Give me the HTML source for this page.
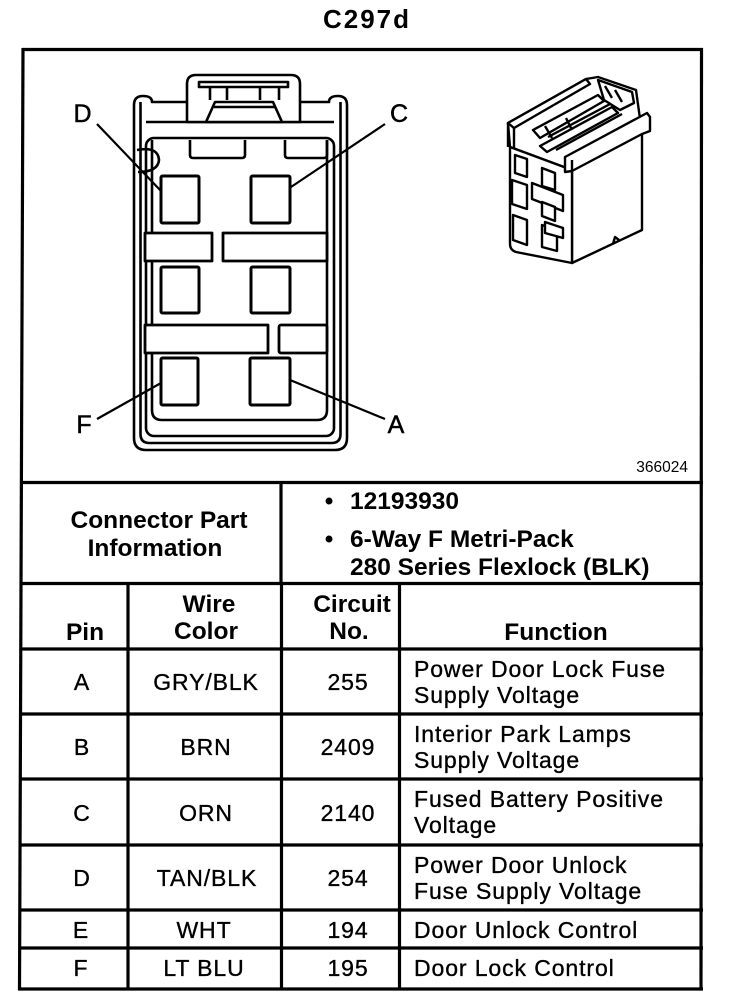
<!DOCTYPE html>
<html>
<head>
<meta charset="utf-8">
<style>
html,body{margin:0;padding:0;background:#fff;}
svg{display:block;}
text{font-family:"Liberation Sans", Arial, sans-serif;fill:#000;}
.b{font-weight:bold;font-size:24.5px;}
.r{font-size:23px;letter-spacing:0.9px;stroke:#000;stroke-width:0.35px;}
</style>
</head>
<body>
<svg width="736" height="1002" viewBox="0 0 736 1002" xmlns="http://www.w3.org/2000/svg">
<rect x="0" y="0" width="736" height="1002" fill="#fff"/>

<!-- Title -->
<text x="367" y="28" font-size="26" font-weight="bold" text-anchor="middle" letter-spacing="2">C297d</text>

<!-- Frame / table lines -->
<g stroke="#000" stroke-width="3.2" fill="none">
  <line x1="22" y1="49.5" x2="703" y2="49.5"/>
  <line x1="23" y1="48" x2="19.5" y2="990.5"/>
  <line x1="701.5" y1="48" x2="701" y2="990.5"/>
  <line x1="21" y1="482.5" x2="703" y2="482.5"/>
  <line x1="21" y1="583.5" x2="703" y2="583.5"/>
  <line x1="20" y1="649" x2="703" y2="649"/>
  <line x1="20" y1="714" x2="703" y2="714"/>
  <line x1="20" y1="779" x2="703" y2="779"/>
  <line x1="20" y1="845" x2="703" y2="845"/>
  <line x1="20" y1="910" x2="703" y2="910"/>
  <line x1="20" y1="948" x2="703" y2="948"/>
  <line x1="18" y1="989" x2="703" y2="989"/>
  <line x1="281" y1="483" x2="281" y2="584"/>
  <line x1="128" y1="584" x2="128" y2="990"/>
  <line x1="281.5" y1="584" x2="281.5" y2="990"/>
  <line x1="399.5" y1="584" x2="399.5" y2="990"/>
</g>

<!-- Connector face drawing -->
<g stroke="#000" stroke-width="2.6" fill="none" stroke-linejoin="round">
  <path d="M134,438 L134,105 Q134,96 143,96 Q152,96 152,102 L329,102 Q329,96 338,96 Q347,96 347,105 L347,438 Q347,450 335,450 L146,450 Q134,450 134,438 Z"/>
  <path d="M140.5,102 L140.5,434 Q140.5,443 149.5,443 L331.5,443 Q340.5,443 340.5,434 L340.5,102"/>
  <rect x="146" y="138" width="188" height="298" rx="8"/>
  <path d="M152,140 L152,410 Q152,420 162,420 L317,420 Q327,420 327,410 L327,140"/>
  <line x1="146" y1="122" x2="334" y2="122"/>
  <!-- latch -->
  <path d="M187,122 L187,84 Q187,75 196,75 L291,75 Q300,75 300,84 L300,122 Z" fill="#fff"/>
  <rect x="199" y="82" width="89" height="5"/>
  <line x1="210" y1="87" x2="210" y2="100"/>
  <line x1="227" y1="87" x2="227" y2="100"/>
  <line x1="260" y1="87" x2="260" y2="100"/>
  <line x1="279" y1="87" x2="279" y2="100"/>
  <polygon points="215,102 273,102 282,122 206,122" fill="#fff"/>
  <line x1="214" y1="107" x2="275" y2="107"/>
  <!-- tabs -->
  <path d="M190,140 L190,155 Q190,158 193,158 L242,158 Q245,158 245,155 L245,140"/>
  <path d="M285,140 L285,155 Q285,158 288,158 L324,158 Q327,158 327,155 L327,140"/>
  <!-- left bump -->
  <path d="M137,150 Q158,146 159,160 Q158,172 138,172"/>
  <!-- bars -->
  <rect x="145" y="233" width="67" height="28" fill="#fff" stroke-width="2.8"/>
  <rect x="223" y="233" width="104" height="28" fill="#fff" stroke-width="2.8"/>
  <rect x="145" y="325" width="123" height="28" fill="#fff" stroke-width="2.8"/>
  <rect x="279" y="325" width="48" height="28" rx="2" fill="#fff" stroke-width="2.8"/>
  <!-- cavities -->
  <rect x="161" y="176" width="38" height="47" rx="1.5" stroke-width="3" fill="#fff"/>
  <rect x="251" y="176" width="39" height="47" rx="1.5" stroke-width="3" fill="#fff"/>
  <rect x="161" y="267" width="38" height="46" rx="1.5" stroke-width="3" fill="#fff"/>
  <rect x="251" y="267" width="39" height="46" rx="1.5" stroke-width="3" fill="#fff"/>
  <rect x="161" y="358" width="37" height="47" rx="1.5" stroke-width="3" fill="#fff"/>
  <rect x="250" y="358" width="40" height="47" rx="1.5" stroke-width="3" fill="#fff"/>
  <!-- leaders -->
  <line x1="97" y1="124" x2="161" y2="191" stroke-width="2.2"/>
  <line x1="385" y1="124" x2="291" y2="187" stroke-width="2.2"/>
  <line x1="97" y1="419" x2="161" y2="383" stroke-width="2.2"/>
  <line x1="290" y1="380" x2="385" y2="419" stroke-width="2.2"/>
</g>
<text x="82.5" y="122" font-size="25" text-anchor="middle" stroke="#000" stroke-width="0.5">D</text>
<text x="399" y="122" font-size="25" text-anchor="middle" stroke="#000" stroke-width="0.5">C</text>
<text x="84" y="433" font-size="25" text-anchor="middle" stroke="#000" stroke-width="0.5">F</text>
<text x="396" y="433" font-size="25" text-anchor="middle" stroke="#000" stroke-width="0.5">A</text>

<!-- 3D connector -->
<g stroke="#000" stroke-width="2.4" fill="#fff" stroke-linejoin="round">
  <polygon points="508,123 586,79 598,77 636,90 642,133 572,170 510,147"/>
  <polygon points="572,170 642,133 642,230 572,263"/>
  <path d="M510,147 L572,170 L572,263 L516,252 Q510,250 510,244 Z"/>
  <!-- left lip -->
  <polygon points="508,123 586,79 590,84 514,128"/>
  <path d="M508,123 L508,147 M514,128 L514,149" fill="none"/>
  <!-- latch interior -->
  <polygon points="533,130 598,95 604,101 540,138"/>
  <polygon points="540,146 612,107 618,113 547,152"/>
  <path d="M548,137 L612,103 M556,150 L622,114 M545,126 L552,138 M566,118 L572,130" fill="none"/>
  <polygon points="598,80 632,92 634,103 620,110 604,100"/>
  <path d="M605,86 L612,98 M615,90 L622,102" fill="none"/>
  <!-- right lip -->
  <polygon points="565,157 647,113 650,117 650,131 642,134 572,171 565,172"/>
  <line x1="572" y1="171" x2="572" y2="160" fill="none"/>
  <!-- notch bottom -->
  <path d="M613,244 L615,237 L619,240" fill="none"/>
  <!-- cavities -->
  <polygon points="515,155 527,159 527,177 515,173"/>
  <polygon points="542,168 555,173 555,190 542,186"/>
  <polygon points="512,180 527,185 527,209 512,204"/>
  <polygon points="532,183 563,195 563,211 532,199"/>
  <polygon points="542,202 555,207 555,221 542,216"/>
  <polygon points="513,215 527,220 527,245 513,240"/>
  <polygon points="542,225 557,230 557,251 542,247"/>
  <polygon points="545,222 563,228 563,238 545,233"/>
</g>

<text x="688" y="472" font-size="15.5" text-anchor="end">366024</text>

<!-- Connector part info -->
<text class="b" x="159" y="528" text-anchor="middle">Connector Part</text>
<text class="b" x="155" y="556" text-anchor="middle">Information</text>
<text class="b" x="329" y="509" text-anchor="middle">•</text>
<text class="b" x="350" y="509">12193930</text>
<text class="b" x="329" y="547" text-anchor="middle">•</text>
<text class="b" x="350" y="547">6-Way F Metri-Pack</text>
<text class="b" x="350" y="575">280 Series Flexlock (BLK)</text>

<!-- Header -->
<text class="b" x="85" y="640" text-anchor="middle">Pin</text>
<text class="b" x="209" y="612" text-anchor="middle">Wire</text>
<text class="b" x="206" y="639" text-anchor="middle">Color</text>
<text class="b" x="352" y="612" text-anchor="middle">Circuit</text>
<text class="b" x="349" y="639" text-anchor="middle">No.</text>
<text class="b" x="556" y="640" text-anchor="middle">Function</text>

<!-- Rows -->
<text class="r" x="82" y="690" text-anchor="middle">A</text>
<text class="r" x="206" y="690" text-anchor="middle">GRY/BLK</text>
<text class="r" x="348" y="690" text-anchor="middle">255</text>
<text class="r" x="414" y="677">Power Door Lock Fuse</text>
<text class="r" x="414" y="703">Supply Voltage</text>

<text class="r" x="82" y="755" text-anchor="middle">B</text>
<text class="r" x="206" y="755" text-anchor="middle">BRN</text>
<text class="r" x="348" y="755" text-anchor="middle">2409</text>
<text class="r" x="414" y="742">Interior Park Lamps</text>
<text class="r" x="414" y="768">Supply Voltage</text>

<text class="r" x="82" y="821" text-anchor="middle">C</text>
<text class="r" x="206" y="821" text-anchor="middle">ORN</text>
<text class="r" x="348" y="821" text-anchor="middle">2140</text>
<text class="r" x="414" y="807">Fused Battery Positive</text>
<text class="r" x="414" y="833">Voltage</text>

<text class="r" x="82" y="886" text-anchor="middle">D</text>
<text class="r" x="207" y="886" text-anchor="middle">TAN/BLK</text>
<text class="r" x="348" y="886" text-anchor="middle">254</text>
<text class="r" x="414" y="873">Power Door Unlock</text>
<text class="r" x="414" y="899">Fuse Supply Voltage</text>

<text class="r" x="81" y="938" text-anchor="middle">E</text>
<text class="r" x="204" y="938" text-anchor="middle">WHT</text>
<text class="r" x="348" y="938" text-anchor="middle">194</text>
<text class="r" x="414" y="938">Door Unlock Control</text>

<text class="r" x="81" y="976" text-anchor="middle">F</text>
<text class="r" x="204" y="976" text-anchor="middle">LT BLU</text>
<text class="r" x="348" y="976" text-anchor="middle">195</text>
<text class="r" x="414" y="976">Door Lock Control</text>
</svg>
</body>
</html>
